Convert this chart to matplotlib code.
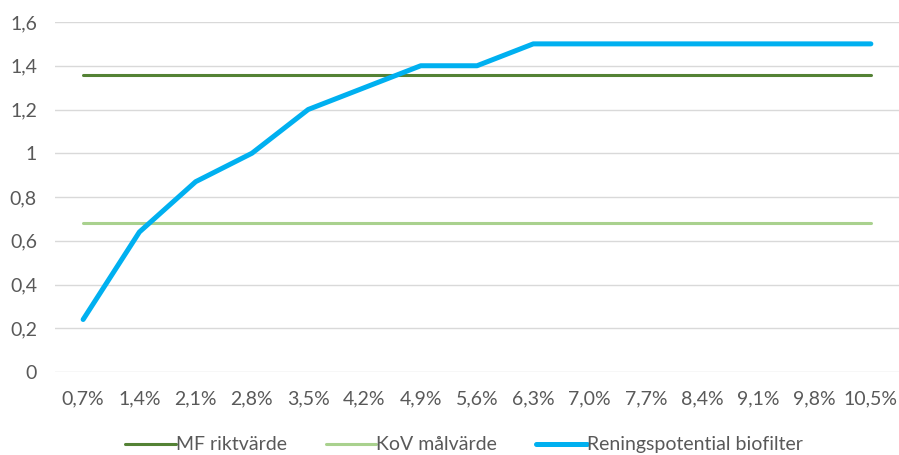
import matplotlib
matplotlib.use("Agg")
import matplotlib.pyplot as plt

# data
categories = ["0,7%", "1,4%", "2,1%", "2,8%", "3,5%", "4,2%", "4,9%", "5,6%",
              "6,3%", "7,0%", "7,7%", "8,4%", "9,1%", "9,8%", "10,5%"]
mf_riktvarde = [1.36] * 15
kov_malvarde = [0.68] * 15
reningspotential = [0.24, 0.64, 0.87, 1.0, 1.2, 1.3, 1.4, 1.4,
                    1.5, 1.5, 1.5, 1.5, 1.5, 1.5, 1.5]
yticks = [0, 0.2, 0.4, 0.6, 0.8, 1.0, 1.2, 1.4, 1.6]
ylabels = ["0", "0,2", "0,4", "0,6", "0,8", "1", "1,2", "1,4", "1,6"]

plt.rcParams["font.family"] = ["Lato", "DejaVu Sans"]
grey = "#595959"

fig = plt.figure(figsize=(8.99, 4.55), dpi=100)
ax = fig.add_axes([55 / 899, 1 - 372 / 455, 1 - 55 / 899, 350 / 455])

x = range(len(categories))
ax.plot(x, mf_riktvarde, color="#548235", lw=2.2, label="MF riktvärde",
        solid_capstyle="round")
ax.plot(x, kov_malvarde, color="#A9D18E", lw=2.2, label="KoV målvärde",
        solid_capstyle="round")
ax.plot(x, reningspotential, color="#00B0F0", lw=3.6,
        label="Reningspotential biofilter", solid_capstyle="round",
        solid_joinstyle="round")

ax.set_xlim(-0.5, len(categories) - 0.5)
ax.set_ylim(0, 1.6)
ax.set_xticks(list(x))
ax.set_xticklabels(categories)
ax.set_yticks(yticks)
ax.set_yticklabels(ylabels)
ax.tick_params(length=0, colors=grey, labelsize=14)
ax.tick_params(axis="x", pad=13)
ax.tick_params(axis="y", pad=13)
ax.grid(axis="y", color="#d9d9d9", lw=1)
ax.set_axisbelow(True)
for s in ax.spines.values():
    s.set_visible(False)

leg = fig.legend(loc="center", bbox_to_anchor=(0.516, 0.022), ncol=3,
                 frameon=False, fontsize=14, handlelength=2.6,
                 handletextpad=0.0, columnspacing=2.0)
for t in leg.get_texts():
    t.set_color(grey)

fig.savefig("out.png", dpi=100)
